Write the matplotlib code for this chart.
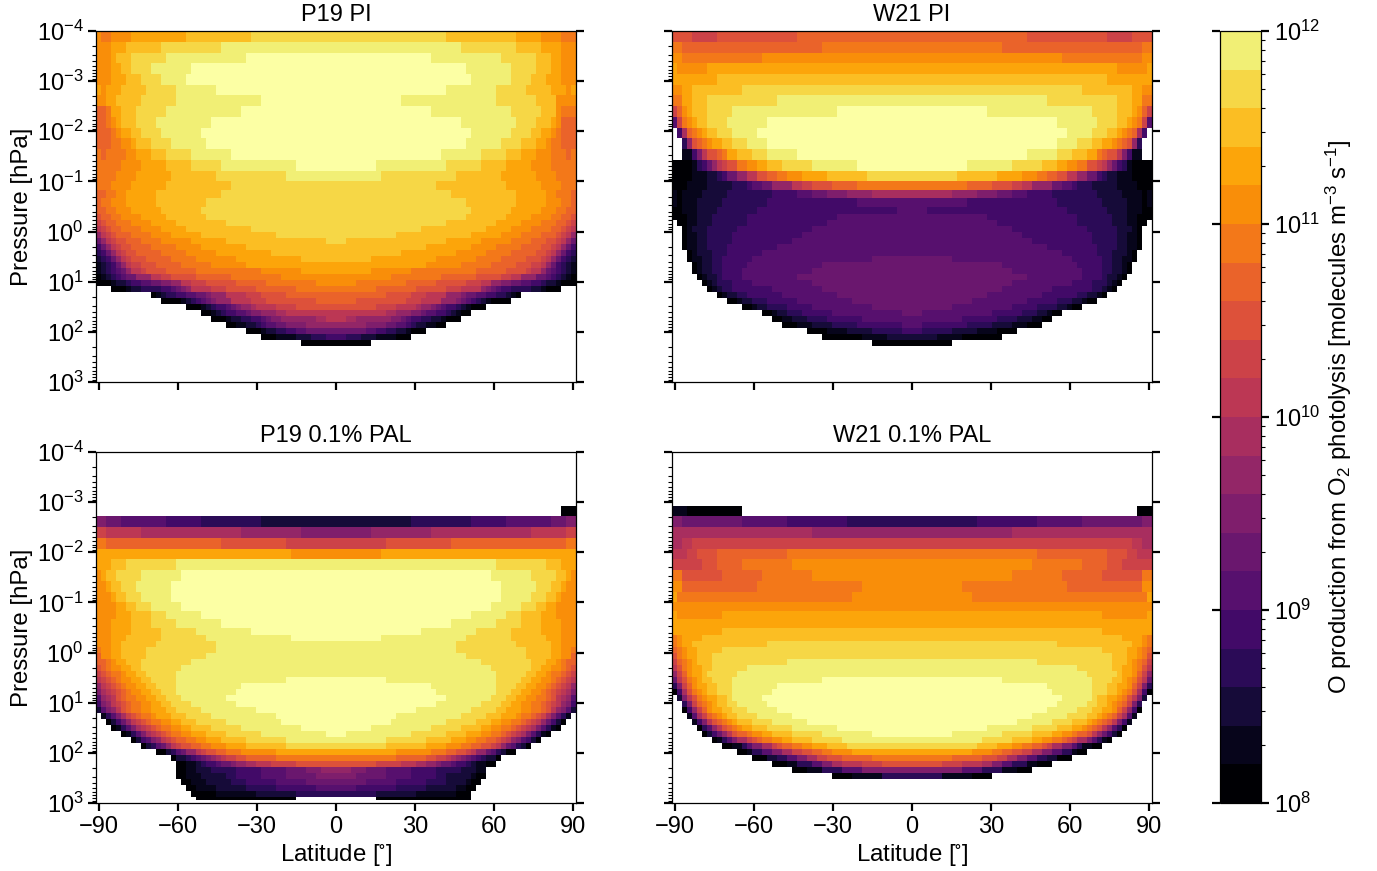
import numpy as np
import matplotlib
matplotlib.use('Agg')
import matplotlib.pyplot as plt
from matplotlib.colors import ListedColormap, LogNorm
from matplotlib.ticker import LogLocator, NullFormatter

plt.rcParams['font.family'] = ['Liberation Sans', 'DejaVu Sans']
plt.rcParams['mathtext.fontset'] = 'custom'
plt.rcParams['mathtext.rm'] = 'Liberation Sans'
plt.rcParams['mathtext.it'] = 'Liberation Sans'
plt.rcParams['mathtext.default'] = 'regular'

# colour band of every cell, written row by row from the top level down
# "L12" = band L up to lat cell 12, "." = no data, "|" = other half like this one
BANDS = '0123456789abcdefghijk'

log_p_edges = [-4.0, -3.786, -3.571, -3.357, -3.143, -2.929, -2.714, -2.5, -2.286, -2.071,
               -1.857, -1.643, -1.429, -1.214, -1.0, -0.82, -0.66, -0.5, -0.36, -0.24, -0.12,
               0.0, 0.12, 0.24, 0.36, 0.48, 0.6, 0.72, 0.84, 0.96, 1.08, 1.2, 1.32, 1.44, 1.56,
               1.68, 1.8, 1.92, 2.04, 2.16, 2.28, 2.4, 2.52, 2.64, 2.76, 2.88, 2.94, 3.0]
lat_edges = np.linspace(-91, 91, 97)

p19_pi = [
    "f1 e3 f7 g18 h31 i70 h84 g89 f93 e96",
    "f3 g6 h13 i25 j73 i84 h89 g93 f96",
    "f3 g4 h7 i14 j30 k67 j81 i88 h91 g93 f96",
    "f3 g5 h7 i11 j19 k74 j83 i88 h91 g93 f96",
    "f3 g6 h9 i13 j18 k75 j83 i87 h90 g93 f96",
    "g1 f2 g5 h10 i16 j24 k70 j80 i86 h91 g94 f95 g96",
    "f2 g4 h9 i16 j33 k61 j80 i88 h92 f96",
    "d2 e3 g5 h8 i14 j29 k67 j83 i89 h92 f93 e96",
    "d2 e3 f4 g5 h8 i12 j23 k73 j84 i88 h91 g92 f93 d96",
    "d3 e4 f5 g7 h9 i13 j21 k75 j83 i87 h89 g91 f92 e93 d96",
    "d3 e5 f7 g8 h11 i15 j22 k74 j81 i85 h88 g90 f91 e93 d96",
    "e1 d2 e6 f8 g11 h14 i19 j27 k69 j77 i82 h85 g88 f91 e94 d95 e96",
    "e5 f9 g14 h19 i25 j40 k56 j70 i77 h82 g87 f91 e96",
    "e4 f8 g15 h24 i38 j57 i72 h81 g88 f92 e96",
    "e3 f7 g14 h27 i68 h82 g89 f93 e96",
    "d2 e4 f6 g12 h25 i71 h84 g90 f92 e95 d96",
    "d1 e3 f6 g12 h22 i48 |",
    "d2 e4 f7 g13 h21 i48 |",
    "c1 d3 e5 f9 g14 h22 i48 |",
    "b1 c2 d4 e7 f11 g16 h26 i48 |",
    "a1 b2 c3 d5 e9 f13 g18 h31 i48 |",
    "81 a2 b3 c4 d7 e11 f15 g21 h36 i48 |",
    "61 82 a3 b4 c6 d9 e13 f19 g26 h46 i48 |",
    "41 62 83 a4 b5 c7 d11 e16 f21 g30 h48 |",
    "31 42 63 84 a5 b6 c8 d13 e18 f24 g35 h48 |",
    "21 32 43 64 85 a6 b7 c10 d15 e20 f28 g41 h48 |",
    "11 22 33 44 65 86 a7 b9 c12 d17 e23 f30 g48 |",
    "11 22 33 44 55 66 87 a9 b10 c14 d20 e33 f41 g48 |",
    "01 12 23 34 45 56 68 811 a13 b15 c20 d27 e37 f48 |",
    "03 14 26 37 49 511 613 715 817 a19 b22 c28 d34 e44 f48 |",
    ".3 06 17 29 313 415 516 617 718 819 a23 b26 c32 d40 e48 |",
    ".11 012 113 214 316 418 520 622 723 826 a30 b33 c38 d48 |",
    ".13 017 118 219 320 421 522 623 724 827 a31 b34 c44 d48 |",
    ".18 021 122 223 324 426 527 628 729 831 932 a36 b40 c48 |",
    ".21 023 124 225 326 428 530 631 733 836 938 a48 |",
    ".23 026 127 229 331 433 534 635 737 844 946 a48 |",
    ".26 028 130 232 333 434 536 638 742 848 |",
    ".30 033 134 236 338 440 542 648 |",
    ".33 036 140 243 346 448 |",
    ".41 048 |",
]

w21_pi = [
    "c4 b9 c25 d48 |",
    "e2 d30 e48 |",
    "f2 e18 f48 |",
    "g1 f7 g48 |",
    "g9 h48 |",
    "f2 g4 h14 i48 |",
    "e2 g4 h7 i21 j48 |",
    "b1 d2 f3 g4 h7 i12 j33 k48 |",
    "51 b2 e3 f4 g5 h7 i11 j19 k48 |",
    ".1 42 93 d4 e5 f6 g7 h9 i12 j17 k48 |",
    ".2 33 84 c5 d6 e7 f8 g10 h12 i15 j19 k48 |",
    ".2 14 45 76 a7 c9 d10 e11 g13 h16 i19 j25 k48 |",
    "04 15 36 47 68 89 a10 b11 c13 e15 f17 g19 h22 i28 j37 k48 |",
    "04 17 29 310 411 613 815 a17 c19 d21 e23 f26 g31 h39 i48 |",
    "03 17 212 315 416 518 620 824 a26 b28 c32 d37 e48 |",
    "11 02 16 211 320 425 528 631 735 840 948 |",
    "11 02 15 210 319 437 548 |",
    "02 15 29 317 445 548 |",
    "03 15 28 315 433 548 |",
    ".1 03 15 28 315 431 548 |",
    ".2 03 14 27 313 428 548 |",
    ".2 03 15 27 312 426 548 |",
    ".2 03 15 27 312 424 548 |",
    ".2 03 15 27 311 421 548 |",
    ".3 04 15 28 311 418 548 |",
    ".3 04 16 28 310 416 540 648 |",
    ".4 05 16 28 310 415 530 648 |",
    ".4 05 16 28 310 414 528 648 |",
    ".5 06 17 29 310 414 525 648 |",
    ".6 07 18 29 312 416 528 648 |",
    ".7 08 19 210 312 420 530 648 |",
    ".9 010 111 213 315 422 533 648 |",
    ".11 013 114 216 319 425 536 648 |",
    ".14 016 117 219 323 428 540 648 |",
    ".18 020 121 223 326 432 546 648 |",
    ".20 022 124 227 331 438 548 |",
    ".22 025 128 232 337 446 548 |",
    ".27 031 135 240 346 448 |",
    ".30 038 143 248 |",
    ".40 048 |",
]

p19_pal = [
    ".96", ".96", ".96", ".96", ".96",
    ".93 096",
    "72 65 514 421 333 248 |",
    "b2 a9 929 841 748 |",
    "e2 d25 c38 b48 |",
    "g39 f48 |",
    "g3 h6 i16 j48 |",
    "f1 g2 h4 i9 j17 k48 |",
    "f2 g3 h5 i8 j15 k48 |",
    "f3 g4 h6 i9 j15 k48 |",
    "f4 g6 h8 i11 j17 k48 |",
    "f4 g7 h11 i14 j21 k48 |",
    "f3 g7 h11 i16 j25 k48 |",
    "f3 g7 h13 i20 j31 k48 |",
    "f3 g6 h13 i22 j39 k48 |",
    "f3 g5 h12 i24 j48 |",
    "e1 f3 g5 h10 i24 j48 |",
    "d1 f3 g5 h10 i22 j48 |",
    "d2 e3 f4 g6 h9 i19 j48 |",
    "c1 d2 e3 f5 g7 h9 i17 j48 |",
    "b1 c2 d3 e5 f6 g8 h10 i16 j48 |",
    "a1 b2 c3 d4 e5 f7 g9 h11 i16 j38 k48 |",
    "81 a2 b3 c4 d5 e6 f8 g10 h12 i16 j29 k48 |",
    "71 92 a3 b4 c5 d6 e7 f9 g11 h13 i16 j28 k48 |",
    "51 82 93 a4 c5 d6 e8 f10 g12 h14 i17 j26 k48 |",
    "41 72 83 a4 b5 c6 d7 e9 f11 g13 h15 i19 j28 k48 |",
    "21 52 73 84 a5 c6 d7 e9 f11 g14 h16 i21 j32 k48 |",
    ".1 12 33 54 75 96 b7 c8 d9 e11 f12 g15 h18 i23 j36 k48 |",
    ".2 03 24 45 66 87 a8 b9 c10 d11 e13 f15 g17 h20 i26 j37 k48 |",
    ".3 04 15 36 57 78 99 a10 b11 c12 d13 e15 f17 g19 h23 i29 j41 k48 |",
    ".5 06 17 38 59 710 911 a12 b13 c14 d15 e17 f19 g22 h26 i33 j46 k48 |",
    ".7 08 29 410 511 712 813 a14 b15 c16 d18 e20 f22 g25 h30 i38 j48 |",
    ".9 010 211 312 513 614 815 a16 b17 c19 d21 e23 f26 g30 h38 i48 |",
    ".12 014 215 316 517 618 820 a21 b22 c24 d26 e29 f36 g48 |",
    ".15 016 218 319 420 521 622 723 824 925 a26 b28 c30 d36 e48 |",
    ".16 018 120 221 322 424 525 627 728 830 932 a35 b40 c48 |",
    ".16 018 120 223 328 433 538 642 745 851 754 658 563 468 373 276 178 .96",
    ".16 018 121 226 328 433 538 644 752 658 563 468 370 275 176 078 .96",
    ".17 019 122 227 330 436 542 654 560 466 370 274 175 077 .96",
    ".18 020 124 230 336 444 552 460 366 272 174 076 .96",
    ".19 024 132 240 356 264 172 075 .96",
    ".20 040 .56 075 .96",
]

w21_pal = [
    ".96", ".96", ".96", ".96", ".96",
    "13 014 .93 096",
    "72 614 523 435 348 |",
    "928 848 |",
    "92 a4 b48 |",
    "a3 b5 c9 d23 e48 |",
    "b6 c9 d14 e24 f48 |",
    "e2 c10 d18 e28 f48 |",
    "f2 d17 e38 f48 |",
    "g1 e36 f48 |",
    "f48 |",
    "g1 f10 g48 |",
    "g48 |",
    "g10 h48 |",
    "e1 f2 g6 h48 |",
    "e1 f2 g4 h19 i48 |",
    "d1 e2 f3 g5 h10 i48 |",
    "c1 e2 f3 g5 h8 i48 |",
    "b1 d2 e3 f4 g5 h8 i23 j48 |",
    "a1 c2 e3 f4 g6 h8 i15 j48 |",
    "81 b2 d3 f4 g6 h7 i13 j48 |",
    "61 a2 c3 e4 f5 g6 h8 i12 j30 k48 |",
    "31 72 b3 d4 f5 g7 h9 i12 j21 k48 |",
    "01 42 93 c4 e5 f6 g7 h9 i12 j20 k48 |",
    ".1 22 73 a4 c5 e6 f7 g9 h11 i12 j18 k48 |",
    ".2 33 74 b5 d6 e7 f8 g9 h11 i13 j19 k48 |",
    ".2 03 44 85 b6 d7 f8 g10 h12 i15 j21 k48 |",
    ".3 14 55 96 b7 d8 e9 f10 g11 h13 i17 j24 k48 |",
    ".4 15 46 77 a8 c9 d10 e11 f12 g13 h16 i20 j27 k48 |",
    ".5 06 37 58 89 a10 c11 d12 e13 f14 g16 h19 i24 j33 k48 |",
    ".6 07 28 49 610 811 a12 c13 d15 e16 f18 g20 h24 i30 j40 k48 |",
    ".8 09 110 311 512 713 915 b16 c17 d18 e20 f22 g24 h28 i34 j48 |",
    ".10 012 114 315 516 718 920 b21 c22 d24 e26 f28 g31 h35 i48 |",
    ".13 015 116 318 520 722 924 b26 c28 d30 e32 f36 g48 |",
    ".16 019 221 323 525 727 929 b31 c34 d40 e48 |",
    ".20 023 125 328 530 732 934 a38 b42 c48 |",
    ".24 027 130 334 538 748 |",
    ".32 036 142 348 |",
]

titles = ['P19 PI', 'W21 PI', 'P19 0.1% PAL', 'W21 0.1% PAL']
panels = [p19_pi, w21_pi, p19_pal, w21_pal]
lat_ticks = [-90, -60, -30, 0, 30, 60, 90]
cbar_label = r'O production from O$_2$ photolysis [molecules m$^{-3}$ s$^{-1}$]'


def read_row(row):
    tokens = row.split()
    mirror = tokens[-1] == '|'
    if mirror:
        tokens = tokens[:-1]
    cells = np.full(96, np.nan)
    start = 0
    for tok in tokens:
        end = int(tok[1:])
        if tok[0] != '.':
            cells[start:end] = 10.0 ** (8 + (BANDS.index(tok[0]) + 0.5) / 5)
        start = end
    if mirror:
        cells[48:] = cells[:48][::-1]
    return cells


def read_panel(rows):
    field = np.full((len(log_p_edges) - 1, 96), np.nan)
    for i, row in enumerate(rows):
        field[i] = read_row(row)
    return field


W, H = 1377, 871
def px_axes(x0, x1, y0, y1):
    return fig.add_axes([x0 / W, 1 - y1 / H, (x1 - x0) / W, (y1 - y0) / H])


colors = plt.get_cmap('inferno')(np.linspace(0, 1, 21))
cmap = ListedColormap(colors[:20])
cmap.set_over(colors[20])
cmap.set_bad((1, 1, 1, 0))
norm = LogNorm(1e8, 1e12)

fig = plt.figure(figsize=(W / 100, H / 100), dpi=100)
boxes = [(96, 576, 31, 382), (672, 1152, 31, 382), (96, 576, 452, 803), (672, 1152, 452, 803)]
p_edges = 10.0 ** np.array(log_p_edges)

for n in range(4):
    ax = px_axes(*boxes[n])
    mesh = ax.pcolormesh(lat_edges, p_edges, read_panel(panels[n]), cmap=cmap, norm=norm, linewidth=0)
    ax.set_yscale('log')
    ax.set_ylim(1e3, 1e-4)
    ax.set_xlim(-91, 91)
    ax.set_xticks(lat_ticks)
    ax.set_yticks(10.0 ** np.arange(-4, 4))
    ax.yaxis.set_minor_locator(LogLocator(base=10, subs=np.arange(2, 10) * 0.1, numticks=20))
    ax.yaxis.set_minor_formatter(NullFormatter())
    ax.tick_params(which='major', length=6, width=1.6, labelsize=17, pad=3, right=True)
    ax.tick_params(which='minor', length=3, width=0.8, right=False)
    ax.set_title(titles[n], fontsize=17, pad=7.5)
    for s in ax.spines.values():
        s.set_linewidth(0.9)
    if n % 2 == 0:
        ax.set_ylabel('Pressure [hPa]', fontsize=17.3)
        ax.yaxis.set_label_coords(-0.132, 0.5)
    else:
        ax.tick_params(labelleft=False)
    if n >= 2:
        ax.set_xlabel('Latitude [$^{\\circ}$]', fontsize=17.3, labelpad=3)
    else:
        ax.tick_params(labelbottom=False)

cax = px_axes(1220, 1261, 31, 803)
cb = fig.colorbar(mesh, cax=cax, extend='neither')
cax.tick_params(which='major', length=6, width=1.6, labelsize=17, pad=3, left=True, right=True)
cax.tick_params(which='minor', length=3, width=0.8, right=True, left=False)
cb.outline.set_linewidth(0.9)
cb.set_label(cbar_label, fontsize=17.3, labelpad=3)

fig.savefig('out.png', dpi=100)
